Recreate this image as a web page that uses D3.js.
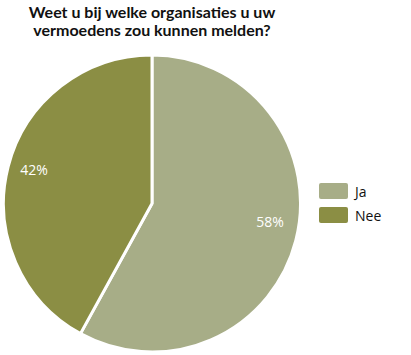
<!DOCTYPE html>
<html lang="en">
<head>
<meta charset="UTF-8" />
<title>Pie</title>
<style>
  body { margin: 0; background: #fff; }
  text { font-family: "Open Sans", sans-serif; }
</style>
</head>
<body>
<svg id="svg" width="411" height="355"></svg>
<script src="https://d3js.org/d3.v7.min.js"></script>
<script>
const categories = ['Ja', 'Nee'];
const values = [58, 42];
const colors = ['#a7ad87', '#8b8e44'];
const titleLines = ['Weet u bij welke organisaties u uw', 'vermoedens zou kunnen melden?'];

const svg = d3.select('#svg');
const cx = 152, cy = 203.5, r = 148.5;

// title
svg.selectAll('text.title')
  .data(titleLines)
  .enter()
  .append('text')
  .attr('class', 'title')
  .attr('x', 152)
  .attr('y', (d, i) => 18 + i * 18)
  .attr('text-anchor', 'middle')
  .attr('font-size', 16)
  .attr('font-weight', 700)
  .style('font-family', 'Lato, sans-serif')
  .attr('fill', '#111')
  .text((d) => d);

const pie = d3.pie().sort(null).value((d) => d.v);
const data = pie(categories.map((c, i) => ({ c: c, v: values[i] })));
const arc = d3.arc().innerRadius(0).outerRadius(r);
const color = d3.scaleOrdinal().domain(categories).range(colors);

const g = svg.append('g').attr('transform', `translate(${cx},${cy})`);
g.selectAll('path')
  .data(data)
  .enter()
  .append('path')
  .attr('d', arc)
  .attr('fill', (d) => color(d.data.c))
  .attr('stroke', '#fff')
  .attr('stroke-width', 3)
  .attr('stroke-linejoin', 'round');

// percent labels
const labelArc = d3.arc().innerRadius(r * 0.82).outerRadius(r * 0.82);
g.selectAll('text.pct')
  .data(data)
  .enter()
  .append('text')
  .attr('class', 'pct')
  .attr('transform', (d) => {
    const p = labelArc.centroid(d);
    return `translate(${p[0]},${p[1]})`;
  })
  .attr('text-anchor', 'middle')
  .attr('dy', (d, i) => (i === 0 ? '-0.5em' : '0.15em'))
  .attr('font-size', 14)
  .attr('fill', '#fff')
  .text((d) => d.data.v + '%');

// legend
const leg = svg.append('g').attr('transform', 'translate(319,183)');
const item = leg.selectAll('g')
  .data(categories)
  .enter()
  .append('g')
  .attr('transform', (d, i) => `translate(0,${i * 24})`);
item.append('rect')
  .attr('width', 29)
  .attr('height', 16)
  .attr('rx', 2)
  .attr('fill', (d) => color(d));
item.append('text')
  .attr('x', 36)
  .attr('y', 14)
  .attr('font-size', 14)
  .attr('fill', '#111')
  .text((d) => d);
</script>
</body>
</html>
